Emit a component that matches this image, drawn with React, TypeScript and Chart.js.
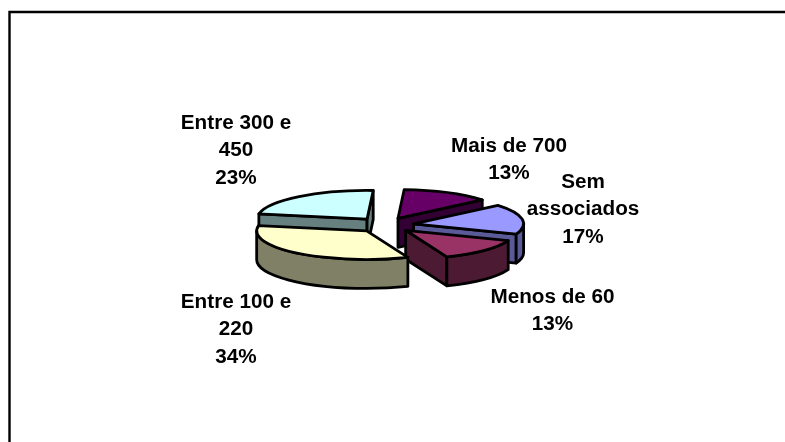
import React, { useEffect, useRef } from "react";
import { Chart, registerables } from "chart.js";

Chart.register(...registerables);

const categories = ["Sem associados", "Menos de 60", "Entre 100 e 220", "Entre 300 e 450", "Mais de 700"];
const shares = [17, 13, 34, 23, 13];
const labelLines = [["Sem", "associados"], ["Menos de 60"], ["Entre 100 e", "220"], ["Entre 300 e", "450"], ["Mais de 700"]];
const topColors = ["#9999FF", "#993366", "#FFFFCC", "#CCFFFF", "#660066"];
const wallColors = ["#5A5A99", "#4D1A33", "#808066", "#668080", "#330033"];

const labelCenters = [[583, 182], [552.5, 297], [236, 302], [236, 123], [509, 146]];
const SQUASH = 0.26;
const DEPTH = 29;
const LINE_H = 27.7;

const pie3d = {
  id: "pie3d",
  beforeDraw(chart: any) {
    const { ctx, width, height } = chart;
    ctx.save();
    ctx.fillStyle = "#fff";
    ctx.fillRect(0, 0, width, height);
    ctx.strokeStyle = "#000";
    ctx.lineWidth = 2.4;
    ctx.beginPath();
    ctx.moveTo(9.5, height + 4);
    ctx.lineTo(9.5, 12);
    ctx.lineTo(width + 4, 12);
    ctx.stroke();
    ctx.restore();
  },
  beforeDatasetDraw() {
    return false;
  },
  afterDatasetsDraw(chart: any) {
    const { ctx } = chart;
    const arcs = chart.getDatasetMeta(0).data.map((a: any, i: number) => {
      const p = a.getProps(["x", "y", "startAngle", "endAngle", "outerRadius"], true);
      const mid = (p.startAngle + p.endAngle) / 2;
      const off = a.options.offset;
      return {
        i,
        s: p.startAngle,
        e: p.endAngle,
        r: p.outerRadius,
        ox: p.x + Math.cos(mid) * off,
        oy: p.y + Math.sin(mid) * off * SQUASH,
        top: a.options.backgroundColor,
        wall: wallColors[i],
      };
    });
    arcs.sort((a: any, b: any) => a.oy - b.oy);

    ctx.save();
    ctx.lineWidth = 2.8;
    ctx.lineJoin = "round";
    ctx.strokeStyle = "#000";
    for (const a of arcs) {
      const pt = (t: number) => [a.ox + Math.cos(t) * a.r, a.oy + Math.sin(t) * a.r * SQUASH];
      const paint = (color: string) => {
        ctx.closePath();
        ctx.fillStyle = color;
        ctx.fill();
        ctx.stroke();
      };
      const cutWall = (t: number) => {
        const [px, py] = pt(t);
        ctx.beginPath();
        ctx.moveTo(a.ox, a.oy);
        ctx.lineTo(px, py);
        ctx.lineTo(px, py + DEPTH);
        ctx.lineTo(a.ox, a.oy + DEPTH);
        paint(a.wall);
      };
      if (-Math.cos(a.s) > 0) cutWall(a.s);
      if (Math.cos(a.e) > 0) cutWall(a.e);
      for (let k = -1; k <= 1; k++) {
        const lo = Math.max(a.s, 2 * Math.PI * k);
        const hi = Math.min(a.e, Math.PI + 2 * Math.PI * k);
        if (hi <= lo) continue;
        ctx.beginPath();
        ctx.ellipse(a.ox, a.oy, a.r, a.r * SQUASH, 0, lo, hi);
        ctx.ellipse(a.ox, a.oy + DEPTH, a.r, a.r * SQUASH, 0, hi, lo, true);
        paint(a.wall);
      }
      ctx.beginPath();
      ctx.moveTo(a.ox, a.oy);
      ctx.ellipse(a.ox, a.oy, a.r, a.r * SQUASH, 0, a.s, a.e);
      paint(a.top);
    }

    ctx.fillStyle = "#000";
    ctx.font = "bold 20.7px 'Liberation Sans', Arial, sans-serif";
    ctx.textAlign = "center";
    ctx.textBaseline = "middle";
    shares.forEach((v, i) => {
      const [x, y] = labelCenters[i];
      [...labelLines[i], `${v}%`].forEach((line, n) => ctx.fillText(line, x, y + n * LINE_H));
    });
    ctx.restore();
  },
};

export default function App() {
  const ref = useRef<HTMLCanvasElement>(null);
  useEffect(() => {
    const chart = new Chart(ref.current!, {
      type: "pie",
      data: {
        labels: categories,
        datasets: [{ data: shares, backgroundColor: topColors, offset: 29, borderWidth: 0 }],
      },
      options: {
        animation: false,
        responsive: false,
        rotation: 50,
        radius: 110,
        layout: { padding: { left: 0, right: 15, top: 8, bottom: 0 } },
        plugins: { legend: { display: false }, tooltip: { enabled: false } },
      },
      plugins: [pie3d],
    } as any);
    return () => chart.destroy();
  }, []);
  return (
    <div style={{ position: "absolute", left: 0, top: 0, width: 785, height: 442 }}>
      <canvas ref={ref} width={785} height={442} style={{ display: "block" }} />
    </div>
  );
}
